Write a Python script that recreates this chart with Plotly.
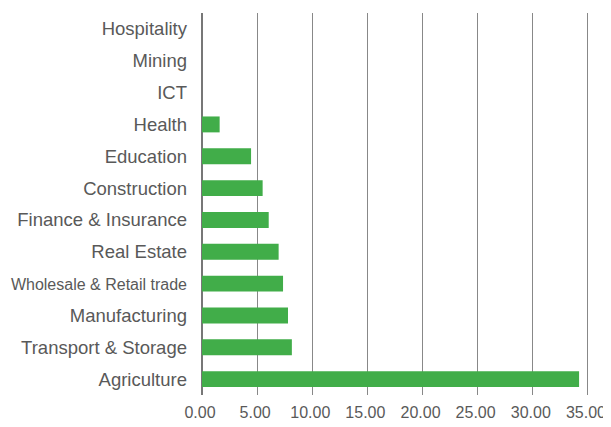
import plotly.graph_objects as go

categories = ["Agriculture", "Transport & Storage", "Manufacturing", "Wholesale & Retail trade",
              "Real Estate", "Finance & Insurance", "Construction", "Education", "Health",
              "ICT", "Mining", "Hospitality"]
values = [34.2, 8.15, 7.8, 7.35, 6.95, 6.05, 5.5, 4.45, 1.6, 0, 0, 0]
x_ticks = [0, 5, 10, 15, 20, 25, 30, 35]
x_tick_labels = ["0.00", "5.00", "10.00", "15.00", "20.00", "25.00", "30.00", "35.00"]

tick_text = [c if c != "Wholesale & Retail trade"
             else '<span style="font-size:16px">' + c + '</span>' for c in categories]

fig = go.Figure(go.Bar(
    y=categories, x=values, orientation="h",
    marker=dict(color="#41ad49", line=dict(width=0)),
    width=0.5,
))

# page body has an 8px default margin, so the figure is sized/offset to compensate
fig.update_layout(
    width=603, height=419,
    margin=dict(l=194, r=22, t=5, b=32, autoexpand=False),
    plot_bgcolor="white", paper_bgcolor="white",
    font=dict(family="Liberation Sans, Arial, sans-serif", size=17, color="#595959"),
    showlegend=False,
    bargap=0.5,
)
fig.update_xaxes(
    range=[0, 35.1], tickvals=x_ticks, ticktext=x_tick_labels,
    showgrid=True, gridcolor="#888888", gridwidth=1,
    zeroline=True, zerolinecolor="#777777", zerolinewidth=1.5,
    showline=False, ticks="", ticklabelstandoff=6, ticklabelshift=-2, automargin=False,
    tickfont=dict(size=16),
)
fig.update_yaxes(
    categoryorder="array", categoryarray=categories,
    tickvals=categories, ticktext=tick_text,
    range=[-0.5, 11.5],
    showgrid=False, zeroline=False, showline=False, ticks="",
    ticklabelstandoff=14, automargin=False,
    tickfont=dict(size=18.5),
)

fig.write_html("out.html")
